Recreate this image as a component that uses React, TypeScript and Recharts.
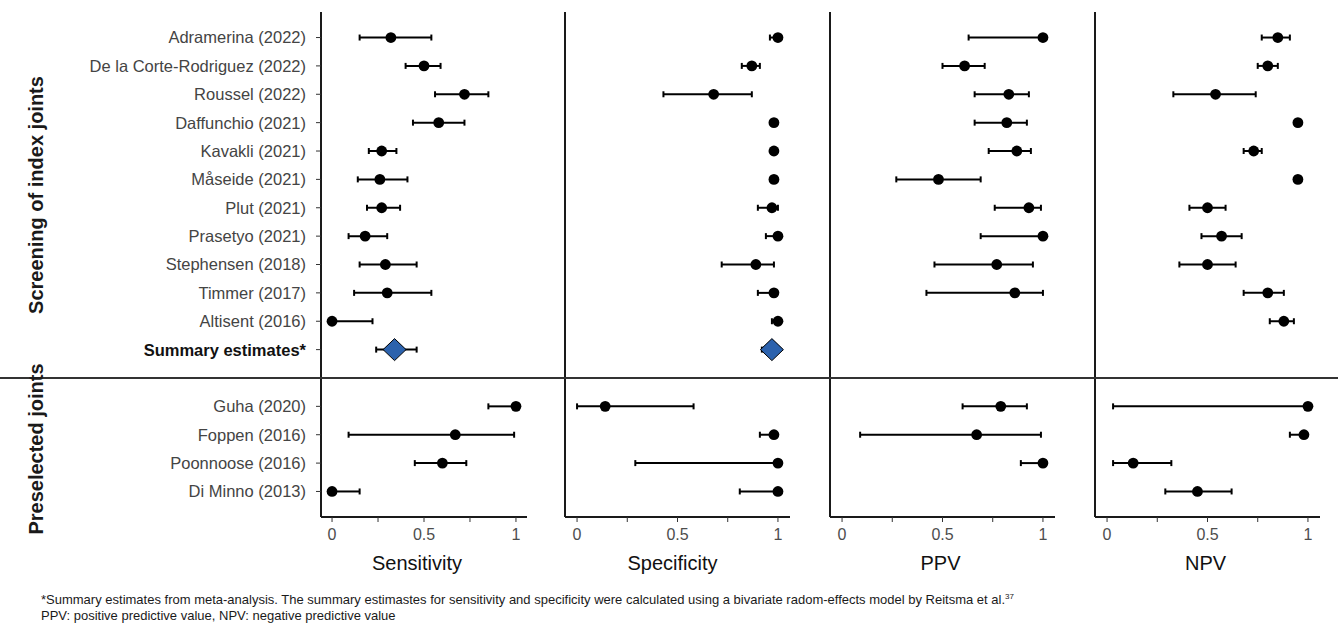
import { ScatterChart, Scatter, XAxis, YAxis, ErrorBar } from "recharts";

const studyLabels = [
  "Adramerina (2022)",
  "De la Corte-Rodriguez (2022)",
  "Roussel (2022)",
  "Daffunchio (2021)",
  "Kavakli (2021)",
  "Måseide (2021)",
  "Plut (2021)",
  "Prasetyo (2021)",
  "Stephensen (2018)",
  "Timmer (2017)",
  "Altisent (2016)",
];
const summaryLabel = "Summary estimates*";
const preselectedLabels = ["Guha (2020)", "Foppen (2016)", "Poonnoose (2016)", "Di Minno (2013)"];

// rows: 11 studies, summary, 4 preselected
const sensEst = [0.32, 0.5, 0.72, 0.58, 0.27, 0.26, 0.27, 0.18, 0.29, 0.3, 0.0, 0.34, 1.0, 0.67, 0.6, 0.0];
const sensLo = [0.15, 0.4, 0.56, 0.44, 0.2, 0.14, 0.19, 0.09, 0.15, 0.12, 0.0, 0.24, 0.85, 0.09, 0.45, 0.0];
const sensHi = [0.54, 0.59, 0.85, 0.72, 0.35, 0.41, 0.37, 0.3, 0.46, 0.54, 0.22, 0.46, 1.0, 0.99, 0.73, 0.15];

const specEst = [1.0, 0.87, 0.68, 0.98, 0.98, 0.98, 0.97, 1.0, 0.89, 0.98, 1.0, 0.97, 0.14, 0.98, 1.0, 1.0];
const specLo = [0.96, 0.82, 0.43, 0.97, 0.97, 0.97, 0.9, 0.94, 0.72, 0.9, 0.97, 0.92, 0.0, 0.91, 0.29, 0.81];
const specHi = [1.0, 0.91, 0.87, 0.99, 0.99, 0.99, 1.0, 1.0, 0.98, 0.99, 1.0, 0.99, 0.58, 0.99, 1.0, 1.0];

const ppvEst = [1.0, 0.61, 0.83, 0.82, 0.87, 0.48, 0.93, 1.0, 0.77, 0.86, null, null, 0.79, 0.67, 1.0, null];
const ppvLo = [0.63, 0.5, 0.66, 0.66, 0.73, 0.27, 0.76, 0.69, 0.46, 0.42, null, null, 0.6, 0.09, 0.89, null];
const ppvHi = [1.0, 0.71, 0.93, 0.92, 0.94, 0.69, 0.99, 1.0, 0.95, 1.0, null, null, 0.92, 0.99, 1.0, null];

const npvEst = [0.85, 0.8, 0.54, 0.95, 0.73, 0.95, 0.5, 0.57, 0.5, 0.8, 0.88, null, 1.0, 0.98, 0.13, 0.45];
const npvLo = [0.77, 0.75, 0.33, 0.94, 0.68, 0.94, 0.41, 0.47, 0.36, 0.68, 0.81, null, 0.03, 0.91, 0.03, 0.29];
const npvHi = [0.91, 0.85, 0.74, 0.96, 0.77, 0.96, 0.59, 0.67, 0.64, 0.88, 0.93, null, 1.0, 0.99, 0.32, 0.62];

const xTicks = [0, 0.25, 0.5, 0.75, 1];
const xTickLabels: Record<number, string> = { 0: "0", 0.5: "0.5", 1: "1" };

const rowLabels = [...studyLabels, summaryLabel, ...preselectedLabels];
const SUMMARY_ROW = studyLabels.length;
// leave one empty slot between the two groups
const rowPos = (i: number) => (i <= SUMMARY_ROW ? i + 1 : i + 2);
const yTicks = rowLabels.map((_, i) => rowPos(i));

const FONT = "'Liberation Sans', Arial, Helvetica, sans-serif";

function buildPoints(est: (number | null)[], lo: (number | null)[], hi: (number | null)[], summary: boolean) {
  const out: { x: number; y: number; err: [number, number] }[] = [];
  est.forEach((e, i) => {
    if (e == null || (i === SUMMARY_ROW) !== summary) return;
    const l = lo[i] ?? e;
    const h = hi[i] ?? e;
    out.push({ x: e, y: rowPos(i), err: [e - l, h - e] });
  });
  return out;
}

function RowTick(props: any) {
  const { x, y, payload } = props;
  const idx = yTicks.indexOf(payload.value);
  const bold = idx === SUMMARY_ROW;
  return (
    <text
      x={x}
      y={y}
      dy="0.36em"
      textAnchor="end"
      fontSize={16.5}
      fontWeight={bold ? 700 : 400}
      fill={bold ? "#111" : "#444"}
    >
      {rowLabels[idx]}
    </text>
  );
}

function ValueTick(props: any) {
  const { x, y, payload } = props;
  return (
    <text x={x} y={y} dy="0.75em" textAnchor="middle" fontSize={16} fill="#4d4d4d">
      {xTickLabels[payload.value] ?? ""}
    </text>
  );
}

const Dot = (p: any) => <circle cx={p.cx} cy={p.cy} r={5.4} fill="#000" />;
const Diamond = (p: any) => (
  <polygon
    points={`${p.cx},${p.cy - 11} ${p.cx + 11.5},${p.cy} ${p.cx},${p.cy + 11} ${p.cx - 11.5},${p.cy}`}
    fill="#2c62ad"
    stroke="#000"
    strokeWidth={1}
  />
);
const Nothing = () => <g />;

interface PanelProps {
  title: string;
  est: (number | null)[];
  lo: (number | null)[];
  hi: (number | null)[];
  left: number;
  plotWidth: number;
  titleShift?: number;
  showLabels?: boolean;
}

function Panel({ title, est, lo, hi, left, plotWidth, titleShift = 0, showLabels }: PanelProps) {
  const yw = showLabels ? left : 2;
  const chartLeft = showLabels ? 0 : left - 2;
  const pts = buildPoints(est, lo, hi, false);
  const sum = buildPoints(est, lo, hi, true);

  return (
    <div style={{ position: "absolute", left: chartLeft, top: 0 }}>
      <ScatterChart
        width={yw + plotWidth + 4}
        height={580}
        margin={{ top: 12, right: 4, bottom: 0, left: 0 }}
      >
        <XAxis
          type="number"
          dataKey="x"
          domain={[-0.06, 1.06]}
          ticks={xTicks}
          interval={0}
          allowDataOverflow
          height={63}
          axisLine={{ stroke: "#1a1a1a", strokeWidth: 2 }}
          tickLine={{ stroke: "#333" }}
          tickSize={5}
          tickMargin={6}
          tick={<ValueTick />}
          label={{ value: title, position: "insideBottom", offset: 10, dx: titleShift, fontSize: 20, fill: "#111" }}
        />
        <YAxis
          type="number"
          dataKey="y"
          domain={[0.1, 17.9]}
          reversed
          ticks={yTicks}
          interval={0}
          width={yw}
          axisLine={{ stroke: "#1a1a1a", strokeWidth: 2 }}
          tickLine={showLabels ? { stroke: "#333" } : false}
          tickSize={5}
          tickMargin={10}
          tick={showLabels ? <RowTick /> : false}
        />
        <Scatter data={pts} shape={Dot} isAnimationActive={false}>
          <ErrorBar dataKey="err" direction="x" width={3} stroke="#000" strokeWidth={2} />
        </Scatter>
        <Scatter data={sum} shape={Diamond} isAnimationActive={false} />
        <Scatter data={sum} shape={Nothing} isAnimationActive={false}>
          <ErrorBar dataKey="err" direction="x" width={3} stroke="#000" strokeWidth={2} />
        </Scatter>
      </ScatterChart>
    </div>
  );
}

export default function App() {
  return (
    <div
      style={{
        position: "absolute",
        left: 0,
        top: 0,
        width: 1338,
        height: 623,
        background: "#fff",
        fontFamily: FONT,
        overflow: "hidden",
      }}
    >
      <Panel title="Sensitivity" est={sensEst} lo={sensLo} hi={sensHi} left={321} plotWidth={206} titleShift={-7} showLabels />
      <Panel title="Specificity" est={specEst} lo={specLo} hi={specHi} left={565} plotWidth={225} titleShift={-5} />
      <Panel title="PPV" est={ppvEst} lo={ppvLo} hi={ppvHi} left={830} plotWidth={225} titleShift={-2} />
      <Panel title="NPV" est={npvEst} lo={npvLo} hi={npvHi} left={1095} plotWidth={225} titleShift={-2} />

      <div style={{ position: "absolute", left: 0, top: 377, width: 1338, height: 1.5, background: "#333" }} />

      <svg width={80} height={580} style={{ position: "absolute", left: 0, top: 0 }}>
        <text
          x={36}
          y={195}
          transform="rotate(-90 36 195)"
          textAnchor="middle"
          dominantBaseline="central"
          fontSize={20}
          fontWeight={700}
          fill="#1a1a1a"
        >
          Screening of index joints
        </text>
        <text
          x={36}
          y={449}
          transform="rotate(-90 36 449)"
          textAnchor="middle"
          dominantBaseline="central"
          fontSize={20}
          fontWeight={700}
          fill="#1a1a1a"
        >
          Preselected joints
        </text>
      </svg>

      <div
        style={{
          position: "absolute",
          left: 41,
          top: 592,
          fontSize: 13,
          lineHeight: "16px",
          color: "#1a1a1a",
          whiteSpace: "nowrap",
        }}
      >
        <div>
          *Summary estimates from meta-analysis. The summary estimastes for sensitivity and specificity were
          calculated using a bivariate radom-effects model by Reitsma et al.
          <sup style={{ fontSize: 8, lineHeight: 0 }}>37</sup>
        </div>
        <div>PPV: positive predictive value, NPV: negative predictive value</div>
      </div>
    </div>
  );
}
